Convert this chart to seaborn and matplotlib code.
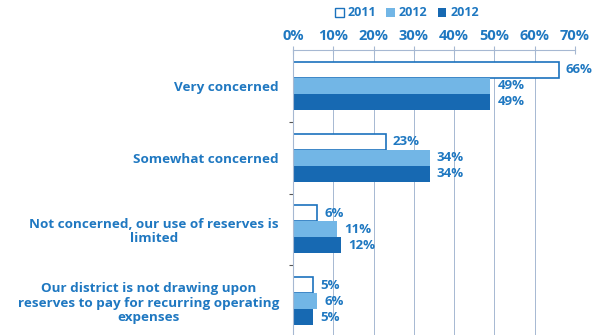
import matplotlib
matplotlib.use("Agg")
import matplotlib.pyplot as plt
from matplotlib.patches import Patch
import seaborn as sns
import pandas as pd

categories = [
    "Very concerned",
    "Somewhat concerned",
    "Not concerned, our use of reserves is\nlimited",
    "Our district is not drawing upon\nreserves to pay for recurring operating\nexpenses",
]
series_labels = ["2011", "2012", "2012"]
values_2011 = [66, 23, 6, 5]
values_2012a = [49, 34, 11, 6]
values_2012b = [49, 34, 12, 5]
x_ticks = [0, 10, 20, 30, 40, 50, 60, 70]

BLUE_TEXT = "#1f78c1"
EDGE = "#1b72bd"
LIGHT = "#72b6e6"
DARK = "#1769b2"
GRID = "#a6b8d2"

rows = []
for s, vals in enumerate([values_2011, values_2012a, values_2012b]):
    for c, v in zip(categories, vals):
        rows.append({"category": c, "series": s, "value": v})
df = pd.DataFrame(rows)

sns.set_theme(style="white")
plt.rcParams["font.family"] = ["Open Sans", "DejaVu Sans"]

fig = plt.figure(figsize=(5.94, 3.35), dpi=100)
ax = fig.add_axes([293 / 594, -2 / 335, 282 / 594, 287 / 335])

palette = {0: "white", 1: LIGHT, 2: DARK}
sns.barplot(data=df, y="category", x="value", hue="series", order=categories,
            hue_order=[0, 1, 2], palette=palette, orient="h", width=0.67,
            legend=False, ax=ax, saturation=1)

for i, cont in enumerate(ax.containers):
    for bar in cont:
        bar.set_edgecolor(EDGE if i == 0 else "none")
        bar.set_linewidth(1.2 if i == 0 else 0)
    ax.bar_label(cont, fmt="%d%%", padding=5, color=BLUE_TEXT,
                 fontsize=9.5, fontweight="bold")

ax.set_xlim(0, 70)
ax.set_ylim(3.5, -0.5)
ax.xaxis.tick_top()
ax.set_xticks(x_ticks)
ax.set_xticklabels([f"{t}%" for t in x_ticks])
ax.tick_params(axis="x", which="both", direction="inout", length=6, width=0.8,
               color=GRID, labelsize=10.5, labelcolor=BLUE_TEXT, pad=2)
for lab in ax.get_xticklabels():
    lab.set_fontweight("bold")

ax.set_yticks([0.5, 1.5, 2.5], minor=True)
ax.set_yticks(range(len(categories)))
ax.set_yticklabels(categories, multialignment="center")
ax.tick_params(axis="y", which="major", length=0, pad=10,
               labelsize=9.7, labelcolor=BLUE_TEXT)
ax.tick_params(axis="y", which="minor", length=3, width=0.8, color="#555555",
               direction="out", left=True)
for lab in ax.get_yticklabels():
    lab.set_fontweight("bold")
    lab.set_linespacing(1.15)

ax.grid(axis="x", color=GRID, linewidth=0.7, linestyle="-")
ax.set_axisbelow(True)
for side in ["right", "bottom"]:
    ax.spines[side].set_visible(False)
ax.spines["top"].set_color(GRID)
ax.spines["top"].set_linewidth(0.8)
ax.spines["left"].set_color(GRID)
ax.spines["left"].set_linewidth(0.8)
ax.set_xlabel("")
ax.set_ylabel("")

handles = [
    Patch(facecolor="white", edgecolor=EDGE, linewidth=1.0),
    Patch(facecolor=LIGHT, edgecolor="none"),
    Patch(facecolor=DARK, edgecolor="none"),
]
leg = fig.legend(handles, series_labels, loc="center", ncol=3,
                 bbox_to_anchor=(407 / 594, 1 - 13 / 335), frameon=False,
                 handlelength=0.7, handleheight=0.7, handletextpad=0.3,
                 columnspacing=0.8, prop={"weight": "bold", "size": 9})
for t in leg.get_texts():
    t.set_color(BLUE_TEXT)

fig.savefig("out.png", dpi=100)
